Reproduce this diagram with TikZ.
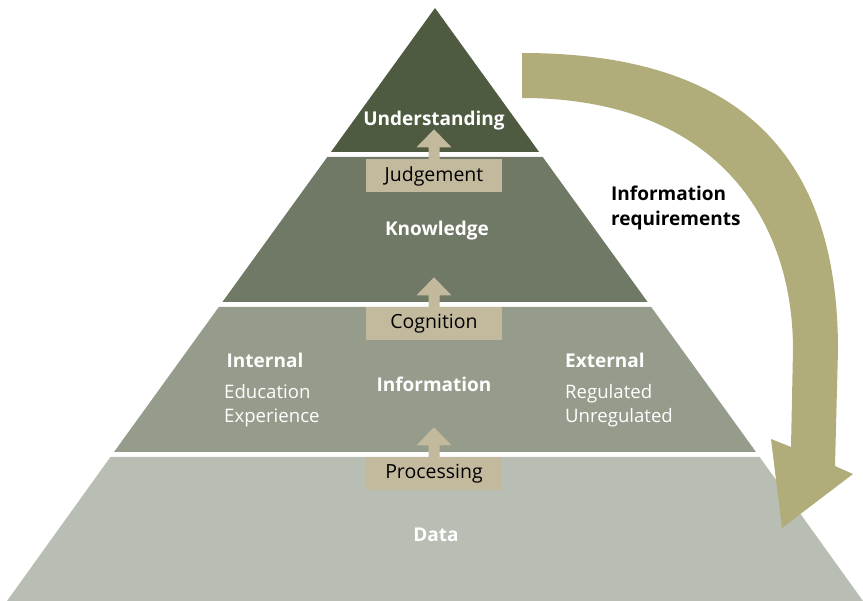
\documentclass[tikz,border=0pt]{standalone}
\usepackage{fontspec}
\setmainfont{Open Sans}
\definecolor{layA}{HTML}{4F5B41}
\definecolor{layB}{HTML}{6F7966}
\definecolor{layC}{HTML}{959C8C}
\definecolor{layD}{HTML}{B9BEB4}
\definecolor{boxtan}{HTML}{C3BA9E}
\definecolor{bigarr}{HTML}{B0AD7B}
\begin{document}
\begin{tikzpicture}[x=1pt, y=-1pt,
  box/.style={fill=boxtan, minimum width=136pt, minimum height=33pt, inner sep=0pt, font=\fontsize{19.5}{22}\selectfont},
  lbl/.style={text=white, font=\bfseries\fontsize{19}{22}\selectfont},
  sub/.style={text=white, align=left, inner sep=0pt, font=\fontsize{18.6}{24}\selectfont}]
	\useasboundingbox (0,0) rectangle (863,601);

	\fill[layA] (435,8) -- (539.1,152) -- (330.9,152) -- cycle;
	\fill[layB] (327.3,157) -- (542.7,157) -- (647.6,302) -- (222.4,302) -- cycle;
	\fill[layC] (218.8,307) -- (651.2,307) -- (756,452) -- (114,452) -- cycle;
	\fill[layD] (110.4,457) -- (759.6,457) -- (863,601) -- (7,601) -- cycle;

	\fill[bigarr] (522,53) .. controls (745,53) and (838,160) .. (838,350) -- (835,466) -- (853,474) -- (782,528) -- (771,439) -- (791,447) -- (793,350) .. controls (793,215) and (712,98) .. (522,98) -- cycle;

	\node[box] (judge) at (434,176) {Judgement};
	\node[box] (cogn) at (434,324) {Cognition};
	\node[box] (proc) at (434,474) {Processing};

	\foreach \b in {judge, cogn, proc}
		\fill[boxtan] ([xshift=-5.5pt]\b.north) -- ++(0,-12) -- ++(-12,0) -- ++(17.5,-18) -- ++(17.5,18) -- ++(-12,0) -- ++(0,12) -- cycle;

	\node[lbl] (und) at (434,121) {Understanding};
	\node[lbl] (know) at (437,231) {Knowledge};
	\node[lbl] (info) at (434,384) {Information};
	\node[lbl] (data) at (436,535) {Data};

	\node[lbl] (intl) at (265,360) {Internal};
	\node[sub, anchor=west] (edu) at (224,406) {Education\\Experience};
	\node[lbl, anchor=west, inner sep=0pt] (extl) at (565,360) {External};
	\node[sub, anchor=west] (reg) at (565,406) {Regulated\\Unregulated};

	\node[anchor=west, align=left, inner sep=0pt, font=\bfseries\fontsize{19}{25}\selectfont] (inforeq) at (611,208) {Information\\requirements};
\end{tikzpicture}
\end{document}
